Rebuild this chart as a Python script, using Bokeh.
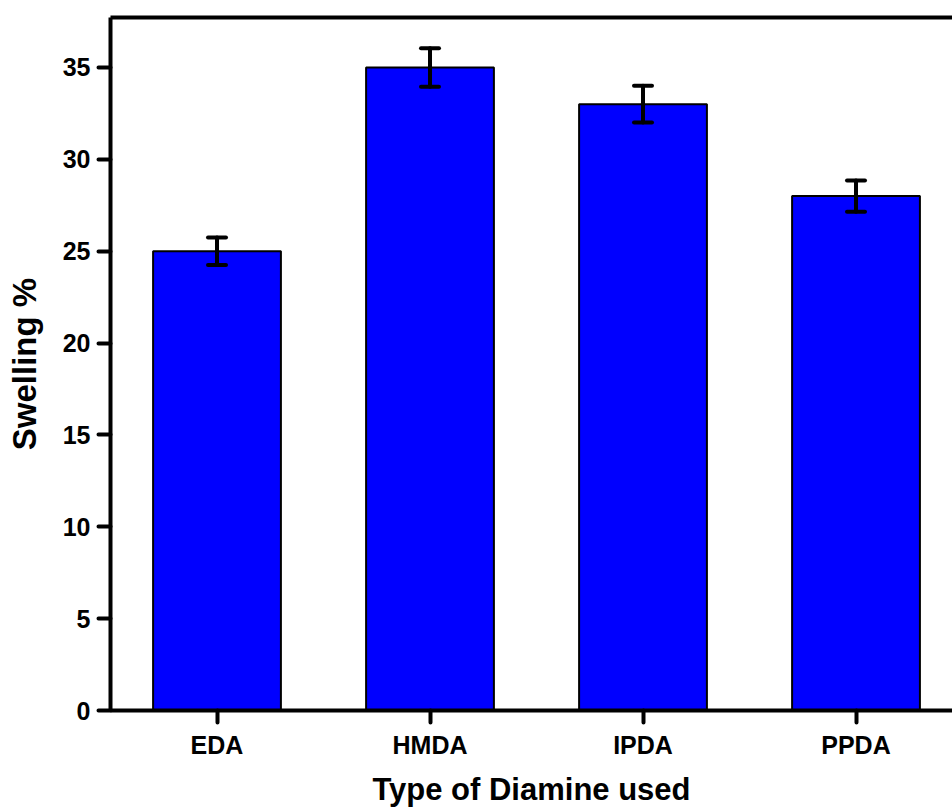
from bokeh.plotting import figure
from bokeh.models import (ColumnDataSource, Range1d, FixedTicker, LinearAxis,
                          Whisker, TeeHead)
from bokeh.embed import file_html
from bokeh.resources import INLINE

# Swelling of the networks for each diamine cross-linker
categories = ["EDA", "HMDA", "IPDA", "PPDA"]
swelling = [25.0, 35.0, 33.0, 28.0]
swelling_err = [0.75, 1.05, 1.0, 0.85]
y_ticks = [0, 5, 10, 15, 20, 25, 30, 35]

pos = [i + 1 for i in range(len(categories))]
src = ColumnDataSource(dict(
    x=pos,
    top=swelling,
    lower=[v - e for v, e in zip(swelling, swelling_err)],
    upper=[v + e for v, e in zip(swelling, swelling_err)],
))

FONT = "Liberation Sans"

p = figure(width=952, height=809, output_backend="svg", toolbar_location=None,
           x_range=Range1d(0.5, 4.453), y_range=Range1d(0, 37.72),
           min_border_left=110, min_border_right=0, min_border_top=17,
           min_border_bottom=99)
p.outline_line_color = None
p.background_fill_color = "white"
p.border_fill_color = "white"
p.grid.visible = False

p.vbar(x="x", top="top", width=0.6, bottom=0, source=src,
       fill_color="#0000FF", line_color="black", line_width=2)

err = Whisker(base="x", lower="lower", upper="upper", source=src, level="overlay",
              line_color="black", line_width=4, line_cap="round",
              upper_head=TeeHead(size=18, line_width=4, line_color="black", line_cap="round"),
              lower_head=TeeHead(size=18, line_width=4, line_color="black", line_cap="round"))
p.add_layout(err)

for ax in (p.xaxis[0], p.yaxis[0]):
    ax.axis_line_width = 4
    ax.major_tick_line_width = 4
    ax.major_tick_line_cap = "round"
    ax.major_tick_out = 12
    ax.major_tick_in = 0
    ax.minor_tick_line_color = None
    ax.major_label_text_font = FONT
    ax.major_label_text_font_style = "bold"
    ax.major_label_text_font_size = "25px"
    ax.major_label_text_color = "black"
    ax.axis_label_text_font = FONT
    ax.axis_label_text_font_style = "bold"
    ax.axis_label_text_color = "black"

p.xaxis.ticker = FixedTicker(ticks=pos)
p.xaxis.major_label_overrides = {x: c for x, c in zip(pos, categories)}
p.xaxis.major_label_standoff = 8
p.xaxis.axis_label = "Type of Diamine used"
p.xaxis.axis_label_text_font_size = "31px"
p.xaxis.axis_label_standoff = 10

p.yaxis.ticker = FixedTicker(ticks=y_ticks)
p.yaxis.major_label_standoff = 8
p.yaxis.axis_label = "Swelling %"
p.yaxis.axis_label_text_font_size = "33px"
p.yaxis.axis_label_standoff = 17

# top border line of the frame
top = LinearAxis(axis_line_width=4, major_tick_line_color=None,
                 minor_tick_line_color=None, major_label_text_font_size="0px")
top.ticker = FixedTicker(ticks=[])
p.add_layout(top, "above")

open("out.html", "w").write(file_html(p, INLINE))
